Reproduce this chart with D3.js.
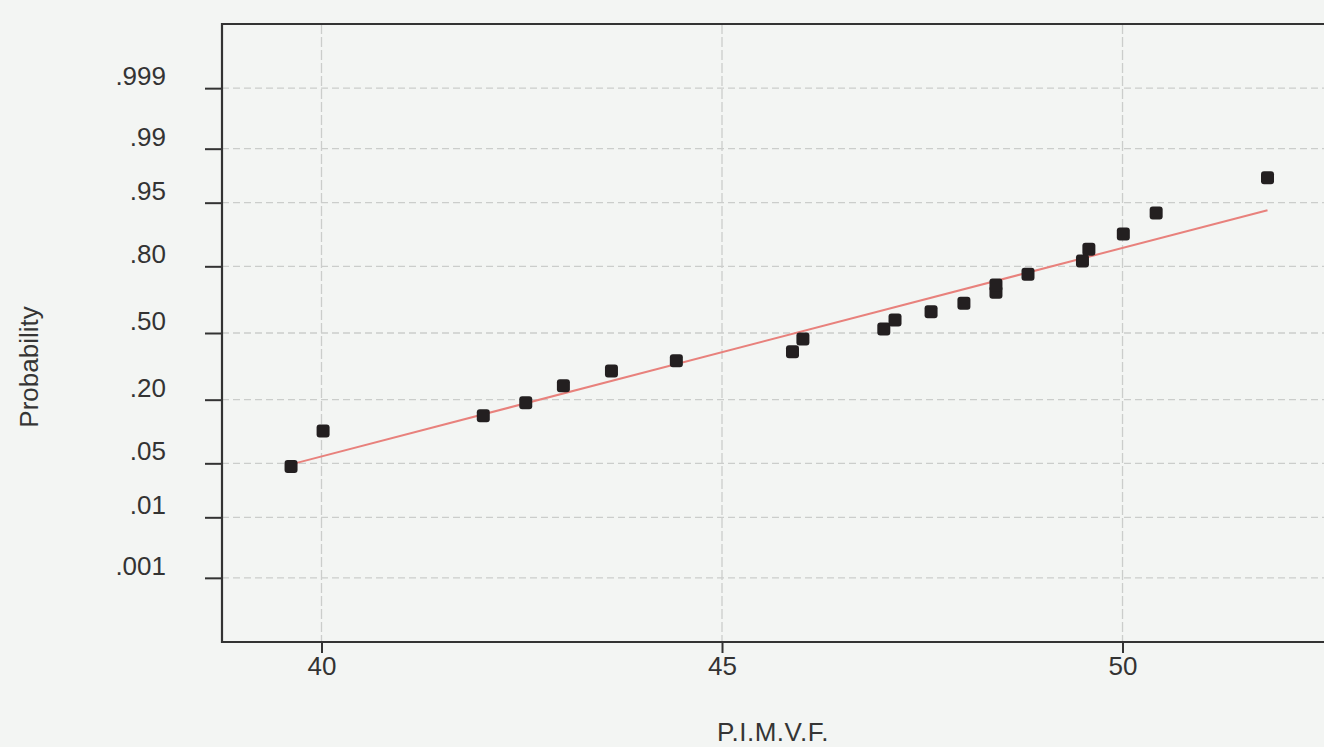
<!DOCTYPE html>
<html>
<head>
<meta charset="utf-8">
<script src="https://cdn.jsdelivr.net/npm/d3@7"></script>
<style>
  html, body { margin: 0; padding: 0; background: #f3f5f3; }
  svg { display: block; }
  text { font-family: "Liberation Sans", Arial, sans-serif; fill: #353535; }
</style>
</head>
<body>
<svg id="chart" width="1324" height="747"></svg>
<script>
// Observed P.I.M.V.F. values and their plotted cumulative probabilities
const pimvf = [39.62, 40.02, 42.02, 42.55, 43.02, 43.62, 44.43, 45.88, 46.01, 47.02, 47.16,
               47.61, 48.02, 48.42, 48.42, 48.82, 49.50, 49.58, 50.01, 50.42, 51.81];
const probability = [0.046, 0.108, 0.148, 0.189, 0.253, 0.316, 0.363, 0.407, 0.470, 0.520, 0.565,
                     0.606, 0.646, 0.696, 0.728, 0.771, 0.818, 0.855, 0.894, 0.935, 0.975];

// Fitted normal distribution (reference line)
const fitMean = 45.92;
const fitSd = 3.80;

// Axis ticks
const xTicks = [40, 45, 50];
const probTicks = [0.999, 0.99, 0.95, 0.80, 0.50, 0.20, 0.05, 0.01, 0.001];
const probTickLabels = [".999", ".99", ".95", ".80", ".50", ".20", ".05", ".01", ".001"];

// Inverse standard normal CDF (Acklam's rational approximation)
function probit(p) {
  const a = [-3.969683028665376e+01, 2.209460984245205e+02, -2.759285104469687e+02,
             1.383577518672690e+02, -3.066479806614716e+01, 2.506628277459239e+00];
  const b = [-5.447609879822406e+01, 1.615858368580409e+02, -1.556989798598866e+02,
             6.680131188771972e+01, -1.328068155288572e+01];
  const c = [-7.784894002430293e-03, -3.223964580411365e-01, -2.400758277161838e+00,
             -2.549671010243180e+00, 4.374664141464968e+00, 2.938163982698783e+00];
  const d = [7.784695709041462e-03, 3.224671290700398e-01, 2.445134137142996e+00,
             3.754408661907416e+00];
  const pl = 0.02425, ph = 1 - pl;
  let q, r;
  if (p < pl) {
    q = Math.sqrt(-2 * Math.log(p));
    return (((((c[0]*q+c[1])*q+c[2])*q+c[3])*q+c[4])*q+c[5]) / ((((d[0]*q+d[1])*q+d[2])*q+d[3])*q+1);
  }
  if (p <= ph) {
    q = p - 0.5; r = q * q;
    return (((((a[0]*r+a[1])*r+a[2])*r+a[3])*r+a[4])*r+a[5])*q / (((((b[0]*r+b[1])*r+b[2])*r+b[3])*r+b[4])*r+1);
  }
  q = Math.sqrt(-2 * Math.log(1 - p));
  return -(((((c[0]*q+c[1])*q+c[2])*q+c[3])*q+c[4])*q+c[5]) / ((((d[0]*q+d[1])*q+d[2])*q+d[3])*q+1);
}

const svg = d3.select("#chart");
const plotLeft = 222, plotTop = 24, plotBottom = 642, plotRight = 1340;

const x = d3.scaleLinear().domain([38.758, 52.715]).range([plotLeft, plotRight]);
// Normal-probability scale: linear in z = probit(p)
const z = d3.scaleLinear().domain([-3.9, 3.9]).range([plotBottom, plotTop]);
const y = p => z(probit(p));

const fontSize = 26;

// Gridlines
const grid = svg.append("g");
grid.selectAll("line.h").data(probTicks).join("line")
  .attr("class", "h")
  .attr("x1", plotLeft).attr("x2", plotRight)
  .attr("y1", d => y(d)).attr("y2", d => y(d))
  .attr("stroke", "#cbcdcb").attr("stroke-width", 1.3)
  .attr("stroke-dasharray", "7,4");
grid.selectAll("line.v").data(xTicks).join("line")
  .attr("class", "v")
  .attr("x1", d => x(d)).attr("x2", d => x(d))
  .attr("y1", plotTop).attr("y2", plotBottom)
  .attr("stroke", "#cbcdcb").attr("stroke-width", 1.3)
  .attr("stroke-dasharray", "10,3");

// Y axis (probability)
const yAxis = d3.axisLeft(z)
  .tickValues(probTicks.map(probit))
  .tickFormat((d, i) => probTickLabels[i])
  .tickSize(17)
  .tickPadding(39);
const gy = svg.append("g").attr("transform", `translate(${plotLeft},0)`).call(yAxis);
gy.select(".domain").remove();
gy.selectAll(".tick line").attr("stroke", "#333").attr("stroke-width", 2);
gy.selectAll(".tick text")
  .attr("dy", -3.5)
  .style("font-size", fontSize + "px")
  .style("fill", "#333")
  .style("font-family", "'Liberation Sans', Arial, sans-serif");

// X axis
const xAxis = d3.axisBottom(x).tickValues(xTicks).tickFormat(d3.format("d")).tickSize(11).tickPadding(4);
const gx = svg.append("g").attr("transform", `translate(0,${plotBottom})`).call(xAxis);
gx.select(".domain").remove();
gx.selectAll(".tick line").attr("stroke", "#333").attr("stroke-width", 2);
gx.selectAll(".tick text")
  .style("font-size", fontSize + "px")
  .style("fill", "#333")
  .style("font-family", "'Liberation Sans', Arial, sans-serif");

// Plot frame (left, top, bottom)
svg.append("path")
  .attr("d", `M${plotRight},${plotTop}H${plotLeft}V${plotBottom}H${plotRight}`)
  .attr("fill", "none").attr("stroke", "#333").attr("stroke-width", 2.2);

// Fitted line
const xMin = d3.min(pimvf), xMax = d3.max(pimvf);
const fitLine = d3.line().x(d => x(d)).y(d => z((d - fitMean) / fitSd));
svg.append("path")
  .datum([xMin, xMax])
  .attr("d", fitLine)
  .attr("fill", "none")
  .attr("stroke", "#e8817c")
  .attr("stroke-width", 2);

// Data points
const pts = pimvf.map((v, i) => ({ v, p: probability[i] }));
svg.append("g").selectAll("rect").data(pts).join("rect")
  .attr("x", d => x(d.v) - 6.5)
  .attr("y", d => y(d.p) - 6.5)
  .attr("width", 13).attr("height", 13)
  .attr("rx", 3)
  .attr("fill", "#231f20");

// Axis titles
svg.append("text")
  .attr("x", 773).attr("y", 741)
  .attr("text-anchor", "middle")
  .style("font-size", "26px")
  .style("letter-spacing", "0.5px")
  .text("P.I.M.V.F.");

svg.append("text")
  .attr("transform", "translate(38,367) rotate(-90)")
  .attr("text-anchor", "middle")
  .style("font-size", "26px")
  .text("Probability");
</script>
</body>
</html>
